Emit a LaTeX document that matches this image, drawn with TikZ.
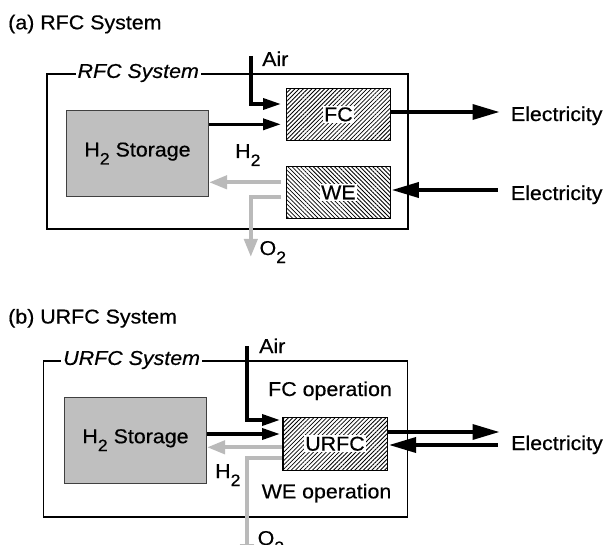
\documentclass[tikz,border=0pt]{standalone}
\usepackage{fontspec}
\setmainfont[FakeStretch=1.07,FakeBold=0.5]{Liberation Sans}
\usetikzlibrary{arrows.meta,patterns.meta}
\newcommand{\subtwo}{\raisebox{-8pt}{\fontsize{16.5}{16.5}\selectfont 2}}
\newcommand{\Htwo}{H\subtwo}
\newcommand{\Otwo}{O\subtwo}
\newcommand{\clearbox}[1]{{\setlength{\fboxsep}{1.6pt}\colorbox{white}{\textcolor{black}{#1}}}}
\begin{document}
\begin{tikzpicture}[x=1pt,y=-1pt,
  txt/.style={font=\fontsize{20}{24}\selectfont, inner sep=0pt},
  syslabel/.style={font=\fontsize{20}{24}\selectfont\itshape, fill=white, inner xsep=2pt, inner ysep=1pt, anchor=west},
  sysbox/.style={draw, line width=1.8pt, anchor=north west, inner sep=0pt},
  store/.style={draw=black!75, fill=black!25, line width=1pt, anchor=north west, inner sep=0pt, font=\fontsize{20}{24}\selectfont},
  hatchne/.style={draw, line width=1.5pt, anchor=north west, inner sep=0pt, font=\fontsize{20}{24}\selectfont, text=black,
     pattern={Lines[angle=45,distance=3pt,line width=0.8pt]}},
  hatchnw/.style={draw, line width=1.5pt, anchor=north west, inner sep=0pt, font=\fontsize{20}{24}\selectfont, text=black,
     pattern={Lines[angle=-45,distance=3pt,line width=0.8pt]}},
  flow/.style={line width=3.5pt, -{Triangle[length=18pt,width=11pt]}},
  bigflow/.style={line width=3.5pt, -{Triangle[length=27pt,width=15pt]}},
  gflow/.style={line width=4pt, draw=black!27, color=black!27, -{Triangle[length=18pt,width=13pt]}}
]
\useasboundingbox (0,0) rectangle (607,545);

% ---------------- (a) RFC System ----------------
\node[txt, anchor=base west] (titleA) at (8,29.3) {(a) RFC System};
\node[sysbox, minimum width=361.6pt, minimum height=155.5pt] (sysA) at (45.7,73) {};
\node[syslabel] (sysAlab) at (75.4,73) {RFC System};
\node[store, minimum width=142pt, minimum height=86pt] (storeA) at (66,110) {\Htwo\ Storage};
\node[hatchne, minimum width=104pt, minimum height=52pt] (fcA) at (286,88) {\clearbox{FC}};
\node[hatchnw, minimum width=104pt, minimum height=52pt] (weA) at (286,166) {\clearbox{WE}};

\coordinate (airA) at (250.8,56);
\coordinate (lvA1) at (0,104);
\coordinate (lvA2) at (0,124.3);
\coordinate (lvA3) at (0,112);
\coordinate (lvA4) at (0,182.3);
\coordinate (lvA5) at (0,197);
\coordinate (elA1) at (499.5,112);
\coordinate (elA2) at (497.5,190);
\coordinate (o2A) at (250.8,257);

\draw[flow, shorten >=5pt] (airA) |- (fcA.west |- lvA1);
\draw[flow, shorten >=5pt] (storeA.east |- lvA2) -- (fcA.west |- lvA2);
\draw[bigflow] (fcA.east |- lvA3) -- (elA1);
\draw[bigflow, shorten >=1pt] (elA2) -- (weA.east |- elA2);
\draw[gflow, shorten <=5pt] (weA.west |- lvA4) -- (storeA.east |- lvA4);
\draw[gflow, shorten <=5pt] (weA.west |- lvA5) -| (o2A);

\node[txt, anchor=base west] (airAlab) at (262,66) {Air};
\node[txt, anchor=base west] (h2Alab) at (235,158) {\Htwo};
\node[txt, anchor=base west] (o2Alab) at (259.4,255) {\Otwo};
\node[txt, anchor=base west] (elAlab1) at (510.7,121) {Electricity};
\node[txt, anchor=base west] (elAlab2) at (510.7,200) {Electricity};

% ---------------- (b) URFC System ----------------
\node[txt, anchor=base west] (titleB) at (8,323.5) {(b) URFC System};
\node[sysbox, minimum width=363.9pt, minimum height=156pt] (sysB) at (42.6,360) {};
\node[syslabel] (sysBlab) at (61.1,360) {URFC System};
\node[store, minimum width=142pt, minimum height=86pt] (storeB) at (64,396.7) {\Htwo\ Storage};
\node[hatchne, minimum width=104.5pt, minimum height=53pt] (urfc) at (282,416.5) {\clearbox{URFC}};

\coordinate (airB) at (247,346);
\coordinate (lvB1) at (0,420);
\coordinate (lvB2) at (0,434);
\coordinate (lvB3) at (0,447.3);
\coordinate (lvB4) at (0,458.3);
\coordinate (elB1) at (499.5,432);
\coordinate (elB2) at (497.5,445);
\coordinate (o2B) at (247,562);

\draw[flow, shorten >=2pt] (airB) |- (urfc.west |- lvB1);
\draw[flow, shorten >=2pt] (storeB.east |- lvB2) -- (urfc.west |- lvB2);
\draw[gflow] (urfc.west |- lvB3) -- (storeB.east |- lvB3);
\draw[gflow] (urfc.west |- lvB4) -| (o2B);
\draw[bigflow] (urfc.east |- elB1) -- (elB1);
\draw[bigflow, shorten >=1pt] (elB2) -- (urfc.east |- elB2);

\node[txt, anchor=base west] (airBlab) at (259,353) {Air};
\node[txt, anchor=base west] (fcop) at (268,396) {FC operation};
\node[txt, anchor=base west] (weop) at (261.5,498.3) {WE operation};
\node[txt, anchor=base west] (h2Blab) at (215,478) {\Htwo};
\node[txt, anchor=base west] (o2Blab) at (257.5,545) {\Otwo};
\node[txt, anchor=base west] (elBlab) at (511,450) {Electricity};
\end{tikzpicture}
\end{document}
